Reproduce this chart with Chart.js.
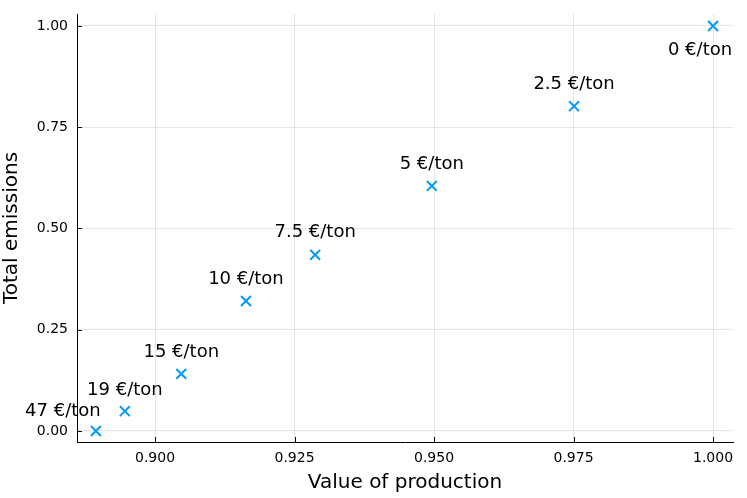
<!DOCTYPE html>
<html>
<head>
<meta charset="utf-8">
<script src="https://cdn.jsdelivr.net/npm/chart.js@4"></script>
<style>
html,body{margin:0;padding:0;background:#fff;}
#wrap{width:747px;height:498px;position:relative;}
</style>
</head>
<body>
<div id="wrap"><canvas id="c" width="747" height="498"></canvas></div>
<script>
const valueOfProduction = [1.000, 0.9751, 0.9496, 0.9287, 0.9163, 0.9047, 0.8946, 0.8894];
const totalEmissions   = [1.000, 0.802, 0.605, 0.435, 0.321, 0.141, 0.049, 0.000];
const priceLabels = ["0 €/ton", "2.5 €/ton", "5 €/ton", "7.5 €/ton", "10 €/ton", "15 €/ton", "19 €/ton", "47 €/ton"];
const xTicks = [0.900, 0.925, 0.950, 0.975, 1.000];
const yTicks = [0.00, 0.25, 0.50, 0.75, 1.00];
const xTitle = "Value of production";
const yTitle = "Total emissions";

const FONT = "'DejaVu Sans', sans-serif";
const labelOffsets = [[-13, 24], [0, -22], [0, -22], [0, -22], [0, -22], [0, -22], [0, -21], [-33, -20]];

const labelPlugin = {
  id: 'pointLabels',
  afterDatasetsDraw(chart) {
    const ctx = chart.ctx;
    const meta = chart.getDatasetMeta(0);
    ctx.save();
    ctx.font = "18px " + FONT;
    ctx.fillStyle = "#000";
    ctx.textAlign = "center";
    ctx.textBaseline = "middle";
    meta.data.forEach((pt, i) => {
      const o = labelOffsets[i];
      ctx.fillText(priceLabels[i], pt.x + o[0], pt.y + o[1]);
    });
    ctx.restore();
  }
};

const tickPlugin = {
  id: 'innerTicks',
  afterDraw(chart) {
    const ctx = chart.ctx;
    const a = chart.chartArea;
    const xs = chart.scales.x, ys = chart.scales.y;
    ctx.save();
    ctx.strokeStyle = "#000";
    ctx.lineWidth = 1;
    ctx.beginPath();
    xTicks.forEach(v => {
      const px = Math.round(xs.getPixelForValue(v)) + 0.5;
      ctx.moveTo(px, a.bottom); ctx.lineTo(px, a.bottom - 5);
    });
    yTicks.forEach(v => {
      const py = Math.round(ys.getPixelForValue(v)) + 0.5;
      ctx.moveTo(a.left, py); ctx.lineTo(a.left + 5, py);
    });
    ctx.stroke();
    ctx.restore();
  }
};

new Chart(document.getElementById('c'), {
  type: 'scatter',
  data: {
    datasets: [{
      data: valueOfProduction.map((x, i) => ({x: x, y: totalEmissions[i]})),
      pointStyle: 'crossRot',
      pointRadius: 7,
      pointHoverRadius: 7,
      borderColor: '#009AFA',
      backgroundColor: '#009AFA',
      pointBorderWidth: 2
    }]
  },
  options: {
    responsive: false,
    animation: false,
    devicePixelRatio: 1,
    layout: { padding: { top: 14, right: 14, left: 0, bottom: 0 } },
    plugins: { legend: { display: false }, tooltip: { enabled: false } },
    scales: {
      x: {
        type: 'linear',
        min: 0.88602,
        max: 1.00358,
        afterBuildTicks: s => { s.ticks = xTicks.map(v => ({value: v})); },
        afterFit: s => { s.height = 56; s.paddingLeft = 0; s.paddingRight = 0; },
        ticks: {
          callback: v => v.toFixed(3),
          font: { family: FONT, size: 14 },
          color: '#000',
          padding: 8,
          maxRotation: 0
        },
        grid: { color: 'rgba(0,0,0,0.1)', drawTicks: false, tickLength: 0 },
        border: { color: '#000', width: 1 },
        title: { display: true, text: xTitle, font: { family: FONT, size: 20 }, color: '#000', padding: { top: 0, bottom: 3 } }
      },
      y: {
        type: 'linear',
        min: -0.0272,
        max: 1.0296,
        afterBuildTicks: s => { s.ticks = yTicks.map(v => ({value: v})); },
        afterFit: s => { s.width = 77; s.paddingTop = 0; s.paddingBottom = 0; },
        ticks: {
          callback: v => v.toFixed(2),
          font: { family: FONT, size: 14 },
          color: '#000',
          padding: 9
        },
        grid: { color: 'rgba(0,0,0,0.1)', drawTicks: false, tickLength: 0 },
        border: { color: '#000', width: 1 },
        title: { display: true, text: yTitle, font: { family: FONT, size: 20 }, color: '#000', padding: { top: 0, bottom: 2 } }
      }
    }
  },
  plugins: [labelPlugin, tickPlugin]
});
</script>
</body>
</html>
